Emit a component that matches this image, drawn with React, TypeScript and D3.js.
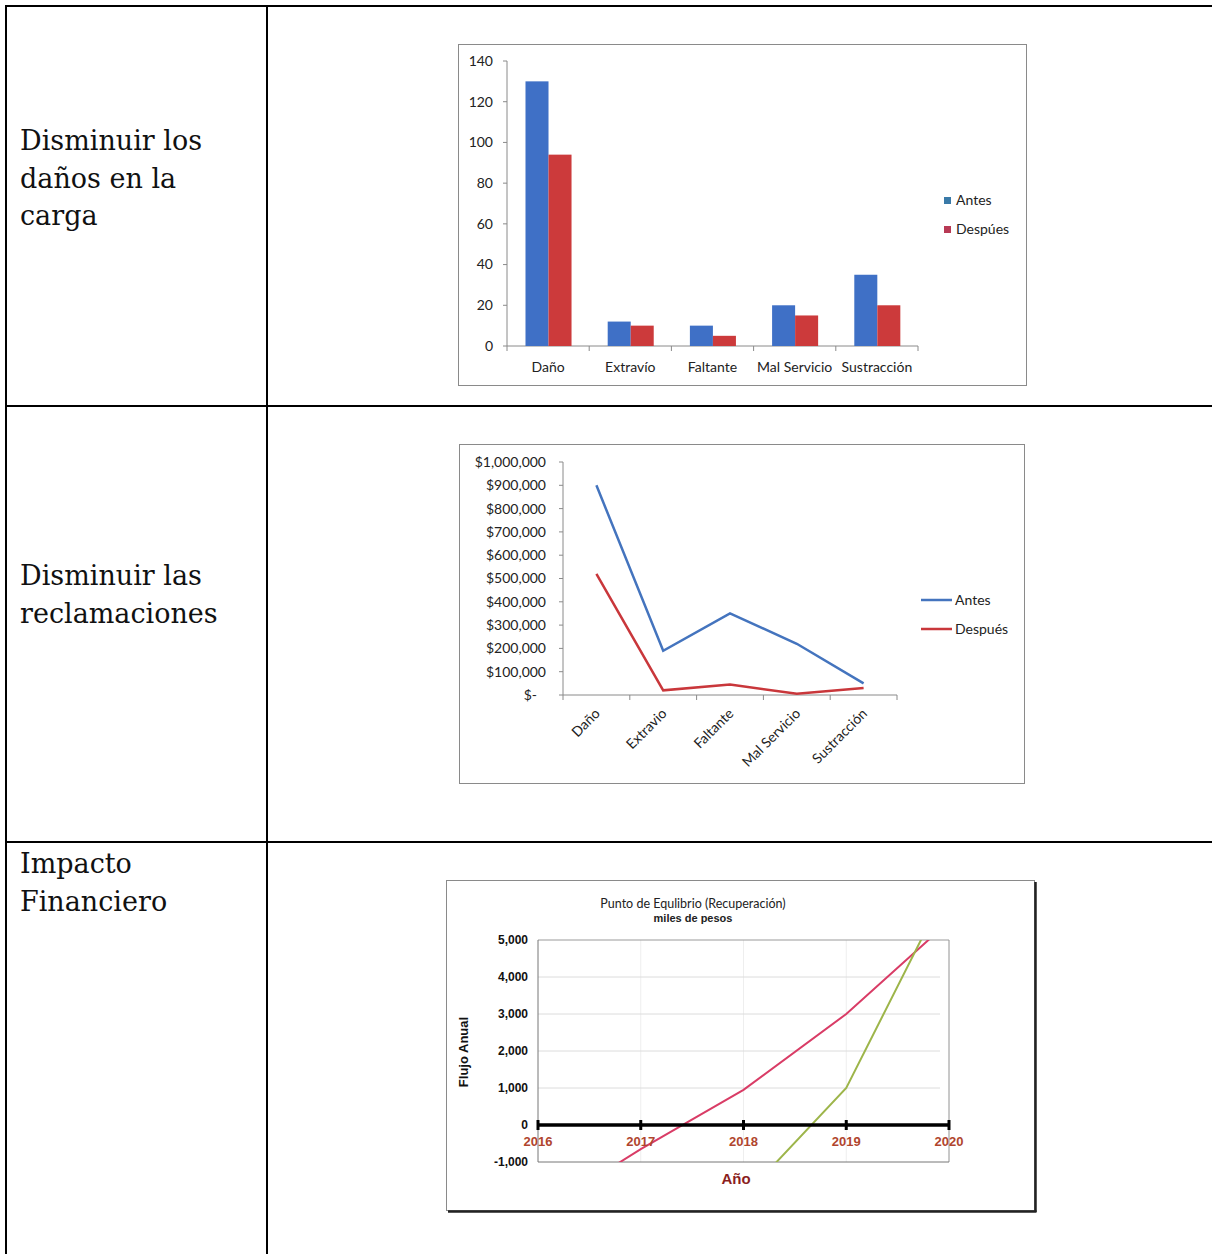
import React from 'react';
import * as d3 from 'd3';

// ---------- data ----------
const barCategories = ['Daño', 'Extravío', 'Faltante', 'Mal Servicio', 'Sustracción'];
const barAntes = [130, 12, 10, 20, 35];
const barDespues = [94, 10, 5, 15, 20];
const barTicks = [0, 20, 40, 60, 80, 100, 120, 140];
const barSeries = ['Antes', 'Despúes'];

const lineCategories = ['Daño', 'Extravio', 'Faltante', 'Mal Servicio', 'Sustracción'];
const lineAntes = [900000, 190000, 350000, 220000, 50000];
const lineDespues = [520000, 20000, 45000, 5000, 30000];
const lineTicks = [0, 100000, 200000, 300000, 400000, 500000, 600000, 700000, 800000, 900000, 1000000];
const lineSeries = ['Antes', 'Después'];

const years = [2016, 2017, 2018, 2019, 2020];
const flujoRed = [-2400, -650, 950, 3000, 5500];
const greenYears = [2018, 2019, 2020];
const flujoGreen = [-1950, 1000, 6500];
const flujoTicks = [-1000, 0, 1000, 2000, 3000, 4000, 5000];

const rowLabels = [
  ['Disminuir los', 'daños en la', 'carga'],
  ['Disminuir las', 'reclamaciones'],
  ['Impacto', 'Financiero'],
];

const BLUE = '#3F70C6';
const RED = '#CC3A3B';
const SANS = 'Lato, "Open Sans", sans-serif';
const ARIAL = '"Liberation Sans", Arial, sans-serif';

function BarChart() {
  const y = d3.scaleLinear().domain([0, 140]).range([346, 61]);
  const x = d3.scaleBand().domain(barCategories).range([507, 918]).padding(0);
  const bw = x.bandwidth();
  const sub = d3.scaleBand().domain(barSeries).range([bw * 0.225, bw * 0.785]);
  const bounds = barCategories.map((c) => x(c)!).concat([918]);
  return (
    <g>
      <rect x={458.5} y={44.5} width={568} height={341} fill="#fff" stroke="#8a8a8a" />
      <line x1={507} x2={507} y1={61} y2={346} stroke="#8a8a8a" />
      <line x1={507} x2={918} y1={346} y2={346} stroke="#8a8a8a" />
      {barTicks.map((t) => (
        <g key={t}>
          <line x1={503} x2={507} y1={y(t)} y2={y(t)} stroke="#8a8a8a" />
          <text x={493} y={y(t)} dy="0.35em" textAnchor="end" fontSize={14} fontFamily={SANS} fill="#222">{t}</text>
        </g>
      ))}
      {bounds.map((b, i) => (
        <line key={i} x1={b} x2={b} y1={346} y2={351} stroke="#8a8a8a" />
      ))}
      {barCategories.map((c, i) => (
        <g key={c}>
          <rect x={x(c)! + sub('Antes')!} y={y(barAntes[i])} width={sub.bandwidth()} height={346 - y(barAntes[i])} fill={BLUE} />
          <rect x={x(c)! + sub('Despúes')!} y={y(barDespues[i])} width={sub.bandwidth()} height={346 - y(barDespues[i])} fill={RED} />
          <text x={x(c)! + bw / 2} y={372} textAnchor="middle" fontSize={14} fontFamily={SANS} fill="#222">{c}</text>
        </g>
      ))}
      {barSeries.map((s, i) => (
        <g key={s}>
          <rect x={944} y={197 + i * 29} width={7} height={7} fill={i === 0 ? '#3A7AA8' : '#B83A55'} />
          <text x={956} y={200.5 + i * 29} dy="0.35em" fontSize={14} fontFamily={SANS} fill="#222">{s}</text>
        </g>
      ))}
    </g>
  );
}

function LineChart() {
  const y = d3.scaleLinear().domain([0, 1000000]).range([695, 462]);
  const x = d3.scaleBand().domain(lineCategories).range([563, 897]).padding(0);
  const bw = x.bandwidth();
  const bounds = lineCategories.map((c) => x(c)!).concat([897]);
  const line = d3
    .line<number>()
    .x((_, i) => x(lineCategories[i])! + bw / 2)
    .y((d) => y(d));
  const fmt = (v: number) => (v === 0 ? '$-' : '$' + d3.format(',')(v));
  return (
    <g>
      <rect x={459.5} y={444.5} width={565} height={339} fill="#fff" stroke="#8a8a8a" />
      <line x1={563} x2={563} y1={462} y2={695} stroke="#8a8a8a" />
      <line x1={563} x2={897} y1={695} y2={695} stroke="#8a8a8a" />
      {lineTicks.map((t) => (
        <g key={t}>
          <line x1={559} x2={563} y1={y(t)} y2={y(t)} stroke="#8a8a8a" />
          <text x={t === 0 ? 537 : 546} y={y(t)} dy="0.35em" textAnchor="end" fontSize={14} fontFamily={SANS} fill="#222">{fmt(t)}</text>
        </g>
      ))}
      {bounds.map((b, i) => (
        <line key={i} x1={b} x2={b} y1={695} y2={700} stroke="#8a8a8a" />
      ))}
      <path d={line(lineAntes)!} fill="none" stroke="#4474BE" strokeWidth={2.5} />
      <path d={line(lineDespues)!} fill="none" stroke="#C9373B" strokeWidth={2.5} />
      {lineCategories.map((c) => (
        <text key={c} transform={`translate(${x(c)! + bw / 2 + 1},${711}) rotate(-45)`} textAnchor="end" dy="0.35em" fontSize={14} fontFamily={SANS} fill="#222">{c}</text>
      ))}
      {lineSeries.map((s, i) => (
        <g key={s}>
          <line x1={921} x2={952} y1={600 + i * 29} y2={600 + i * 29} stroke={i === 0 ? '#4474BE' : '#C9373B'} strokeWidth={2.5} />
          <text x={955} y={600 + i * 29} dy="0.35em" fontSize={14} fontFamily={SANS} fill="#222">{s}</text>
        </g>
      ))}
    </g>
  );
}

function BreakEvenChart() {
  const x = d3.scaleLinear().domain([2016, 2020]).range([538, 949]);
  const y = d3.scaleLinear().domain([-1000, 5000]).range([1162, 940]);
  const redLine = d3
    .line<number>()
    .x((_, i) => x(years[i]))
    .y((d) => y(d));
  const greenLine = d3
    .line<number>()
    .x((_, i) => x(greenYears[i]))
    .y((d) => y(d));
  return (
    <g>
      <rect x={446.5} y={880.5} width={588} height={330} fill="#fff" stroke="#8a8a8a" />
      <line x1={1035.5} x2={1035.5} y1={882} y2={1212} stroke="#222" strokeWidth={2.5} />
      <line x1={448} x2={1036.5} y1={1211.5} y2={1211.5} stroke="#222" strokeWidth={2.5} />
      <text x={693} y={908} textAnchor="middle" fontSize={12.5} fontFamily={SANS} fill="#222">Punto de Equlibrio (Recuperación)</text>
      <text x={693} y={922} textAnchor="middle" fontSize={11} fontWeight="bold" fontFamily={ARIAL} fill="#222">miles de pesos</text>
      <defs>
        <clipPath id="plot3">
          <rect x={538} y={940} width={411} height={222} />
        </clipPath>
      </defs>
      {years.slice(1).map((yr) => (
        <line key={yr} x1={x(yr)} x2={x(yr)} y1={940} y2={1162} stroke="#eeeeee" />
      ))}
      {flujoTicks.filter((t) => t > 0 && t < 5000).map((t) => (
        <line key={t} x1={538} x2={940} y1={y(t)} y2={y(t)} stroke="#dcdcdc" />
      ))}
      <line x1={538} x2={949} y1={940} y2={940} stroke="#9a9a9a" />
      <line x1={949} x2={949} y1={940} y2={1162} stroke="#9a9a9a" />
      <line x1={538} x2={949} y1={1162} y2={1162} stroke="#777" />
      <line x1={538} x2={538} y1={940} y2={1162} stroke="#777" />
      {flujoTicks.map((t) => (
        <text key={t} x={528} y={y(t)} dy="0.35em" textAnchor="end" fontSize={12} fontWeight="bold" fontFamily={ARIAL} fill="#111">{d3.format(',')(t).replace('−', '-')}</text>
      ))}
      <g clipPath="url(#plot3)">
        <path d={redLine(flujoRed)!} fill="none" stroke="#D93C66" strokeWidth={2} />
        <path d={greenLine(flujoGreen)!} fill="none" stroke="#9DB54A" strokeWidth={2} />
      </g>
      <line x1={538} x2={949} y1={y(0)} y2={y(0)} stroke="#000" strokeWidth={3.5} />
      {years.map((yr) => (
        <g key={yr}>
          <line x1={x(yr)} x2={x(yr)} y1={y(0) - 5} y2={y(0) + 5} stroke="#000" strokeWidth={3} />
          <text x={x(yr)} y={y(0) + 21} textAnchor="middle" fontSize={13} fontWeight="bold" fontFamily={ARIAL} fill="#B0452E">{yr}</text>
        </g>
      ))}
      <text transform={`translate(468,1052) rotate(-90)`} textAnchor="middle" fontSize={13} fontWeight="bold" fontFamily={ARIAL} fill="#111">Flujo Anual</text>
      <text x={736} y={1184} textAnchor="middle" fontSize={15} fontWeight="bold" fontFamily={ARIAL} fill="#8B1E1E">Año</text>
    </g>
  );
}

export default function App() {
  const rowStarts = [150, 585, 873];
  return (
    <svg width={1212} height={1254} style={{ position: 'absolute', left: 0, top: 0, background: '#fff' }}>
      <rect x={0} y={0} width={1212} height={1254} fill="#fff" />
      {/* table */}
      <line x1={6} x2={6} y1={5} y2={1254} stroke="#000" strokeWidth={2} />
      <line x1={267} x2={267} y1={5} y2={1254} stroke="#000" strokeWidth={2} />
      <line x1={5} x2={1212} y1={6} y2={6} stroke="#000" strokeWidth={2} />
      <line x1={5} x2={1212} y1={406} y2={406} stroke="#000" strokeWidth={2} />
      <line x1={5} x2={1212} y1={842} y2={842} stroke="#000" strokeWidth={2} />
      {rowLabels.map((lines, r) => (
        <text key={r} fontFamily='"DejaVu Serif", serif' fontSize={27} fill="#111">
          {lines.map((l, i) => (
            <tspan key={i} x={20} y={rowStarts[r] + i * 37.5}>{l}</tspan>
          ))}
        </text>
      ))}
      <BarChart />
      <LineChart />
      <BreakEvenChart />
    </svg>
  );
}
